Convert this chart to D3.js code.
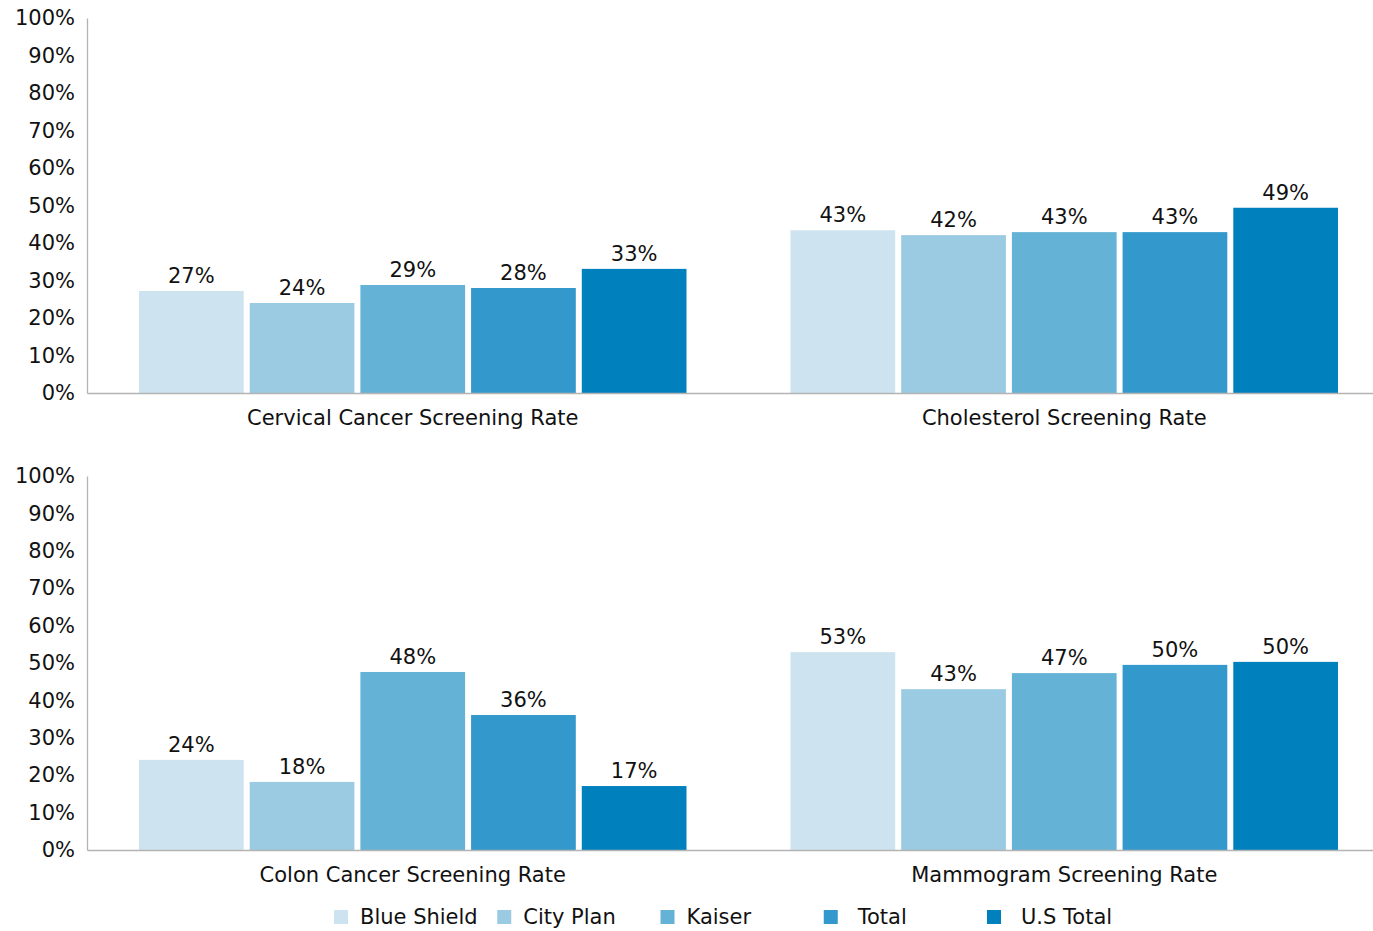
<!DOCTYPE html>
<html>
<head>
<meta charset="utf-8">
<script src="https://cdn.jsdelivr.net/npm/d3@7"></script>
<style>
  body { margin: 0; background: #fff; }
  svg text { font-family: "DejaVu Sans", Verdana, sans-serif; fill: #111; }
</style>
</head>
<body>
<div id="chart"></div>
<script>
// data
const series = ["Blue Shield", "City Plan", "Kaiser", "Total", "U.S Total"];
const colors = ["#cde4f0", "#9acbe3", "#65b2d7", "#3399cc", "#0080bd"];

const topCategories = ["Cervical Cancer Screening Rate", "Cholesterol Screening Rate"];
const cervical = [27.2, 24.0, 28.8, 28.0, 33.1];
const cholesterol = [43.4, 42.1, 42.9, 42.9, 49.4];

const bottomCategories = ["Colon Cancer Screening Rate", "Mammogram Screening Rate"];
const colon = [24.1, 18.2, 47.6, 36.1, 17.1];
const mammogram = [52.9, 43.0, 47.3, 49.5, 50.3];

const yTicks = [0, 10, 20, 30, 40, 50, 60, 70, 80, 90, 100];

const W = 1373, H = 931;
const FS = "21px";
const svg = d3.select("#chart").append("svg")
  .attr("width", W).attr("height", H);

const panels = [
  { cats: topCategories, values: [cervical, cholesterol], top: 18, bottom: 393 },
  { cats: bottomCategories, values: [colon, mammogram], top: 476, bottom: 850 }
];

const left = 87, right = 1390;

panels.forEach(p => {
  const g = svg.append("g");

  const y = d3.scaleLinear().domain([0, 100]).range([p.bottom, p.top]);
  const x0 = d3.scaleBand().domain(p.cats).range([left, right]).paddingInner(0).paddingOuter(0);
  const x1 = d3.scaleBand().domain(series).range([52, x0.bandwidth() - 52]).paddingInner(0.054).paddingOuter(0);

  // y axis
  const yAxis = g.append("g")
    .attr("transform", `translate(${left},0)`)
    .call(d3.axisLeft(y).tickValues(yTicks).tickSize(0).tickPadding(12).tickFormat(d => d + "%"));
  yAxis.select(".domain").attr("stroke", "#b3b3b3").attr("stroke-width", 1.3);
  yAxis.selectAll("text").style("font-size", FS).attr("fill", "#111");

  // bars
  p.cats.forEach((cat, ci) => {
    const grp = g.append("g").attr("transform", `translate(${x0(cat)},0)`);
    const vals = p.values[ci];
    grp.selectAll("rect")
      .data(vals)
      .join("rect")
      .attr("x", (d, i) => x1(series[i]))
      .attr("width", x1.bandwidth())
      .attr("y", d => y(d))
      .attr("height", d => y(0) - y(d))
      .attr("fill", (d, i) => colors[i]);

    grp.selectAll("text.val")
      .data(vals)
      .join("text")
      .attr("class", "val")
      .attr("x", (d, i) => x1(series[i]) + x1.bandwidth() / 2)
      .attr("y", d => y(d) - 8)
      .attr("text-anchor", "middle")
      .style("font-size", FS)
      .text(d => Math.round(d) + "%");

    g.append("text")
      .attr("x", x0(cat) + x0.bandwidth() / 2)
      .attr("y", p.bottom + 32)
      .attr("text-anchor", "middle")
      .style("font-size", FS)
      .text(cat);
  });

  // x axis line
  const xAxis = g.append("g")
    .attr("transform", `translate(0,${p.bottom})`)
    .call(d3.axisBottom(x0).tickSize(0).tickFormat(""));
  xAxis.select(".domain").attr("stroke", "#b3b3b3").attr("stroke-width", 1.3);
});

// legend
const legendX = d3.scalePoint().domain(series).range([334, 987]);
const legend = svg.append("g").attr("transform", "translate(0,917)");
const items = legend.selectAll("g")
  .data(series)
  .join("g")
  .attr("transform", d => `translate(${legendX(d)},0)`);
items.append("rect")
  .attr("x", 0).attr("y", -7)
  .attr("width", 14).attr("height", 14)
  .attr("fill", (d, i) => colors[i]);
items.append("text")
  .attr("x", (d, i) => i >= 3 ? 34 : 26)
  .attr("y", 7)
  .style("font-size", FS)
  .text(d => d);
</script>
</body>
</html>
